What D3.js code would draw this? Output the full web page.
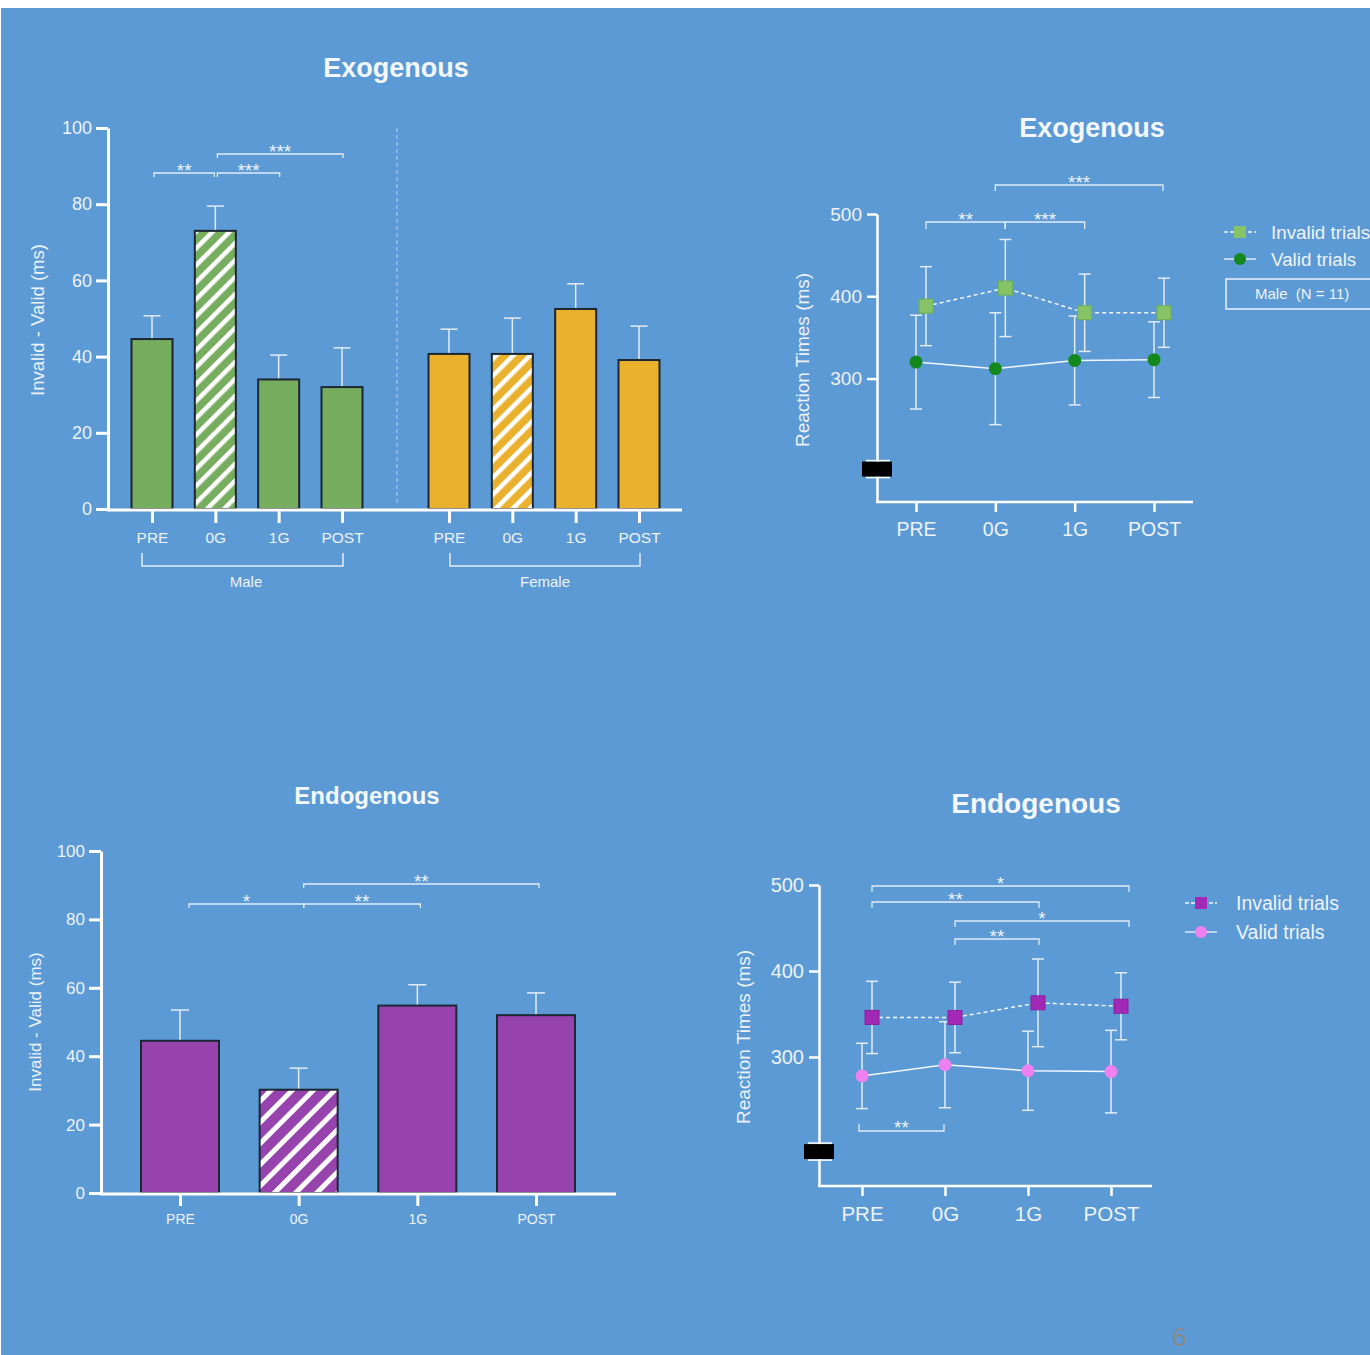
<!DOCTYPE html>
<html><head><meta charset="utf-8">
<script src="https://cdn.jsdelivr.net/npm/d3@7"></script>
<style>
html,body{margin:0;padding:0;background:#fff;}
svg{display:block;font-family:"Liberation Sans",Arial,sans-serif;}
</style></head><body>
<svg id="c" width="1370" height="1355"></svg>
<script>
// ---------------- data ----------------
const conditions = ["PRE", "0G", "1G", "POST"];
const exoMaleMeans = [44.6, 73.0, 34.0, 32.0];
const exoMaleSem = [6.1, 6.5, 6.4, 10.3];
const exoFemaleMeans = [40.7, 40.7, 52.5, 39.1];
const exoFemaleSem = [6.5, 9.4, 6.6, 8.9];
const endoMeans = [44.5, 30.2, 54.8, 52.0];
const endoSem = [9.0, 6.3, 6.1, 6.5];
const exoInvalidRT = [388, 410, 380, 380];
const exoInvalidSD = [48, 59, 47, 42];
const exoValidRT = [320, 312, 322, 323];
const exoValidSD = [57, 68, 54, 46];
const endoInvalidRT = [346, 346, 363, 359];
const endoInvalidSD = [42, 41, 51, 39];
const endoValidRT = [278, 291, 284, 283];
const endoValidSD = [38, 50, 46, 48];
const diffTicks = [0, 20, 40, 60, 80, 100];
const rtTicks = [300, 400, 500];
const hatched = "0G";
const legendLabels = ["Invalid trials", "Valid trials"];
const groupLabels = ["Male", "Female"];
const maleN = "Male  (N = 11)";
// significance: [from, to, label]
const sigExoBars = [["PRE", "0G", "**"], ["0G", "1G", "***"], ["0G", "POST", "***"]];
const sigExoRT = [["PRE", "0G", "**"], ["0G", "1G", "***"], ["0G", "POST", "***"]];
const sigEndoBars = [["PRE", "0G", "*"], ["0G", "1G", "**"], ["0G", "POST", "**"]];
const sigEndoRT = [["PRE", "POST", "*"], ["PRE", "1G", "**"], ["0G", "POST", "*"], ["0G", "1G", "**"]];
const sigEndoRTValid = [["PRE", "0G", "**"]];

// ---------------- setup ----------------
const svg = d3.select("#c");
const TXT = "#eef3fa";
const AX = "#ffffff";
const ERR = "#e4ecf5";
const BLUE = "#5b9ad4";
const GREEN = "#77ad5f", YELLOW = "#e9b12d", PURPLE = "#9743ae";
const EDGE = "#1c2733";
const STAR = 19;

svg.append("rect").attr("x", 0).attr("y", 0).attr("width", 1370).attr("height", 1355).attr("fill", "#ffffff");
svg.append("rect").attr("x", 1).attr("y", 8).attr("width", 1369).attr("height", 1347).attr("fill", BLUE);

const defs = svg.append("defs");
function hatch(id, color, w, s) {
  const p = defs.append("pattern").attr("id", id).attr("patternUnits", "userSpaceOnUse")
    .attr("width", w).attr("height", w).attr("patternTransform", "rotate(45)");
  p.append("rect").attr("width", w).attr("height", w).attr("fill", color);
  p.append("rect").attr("x", 0).attr("width", s).attr("height", w).attr("fill", "#ffffff");
}
hatch("hG", GREEN, 12, 4.5); hatch("hY", YELLOW, 12, 4.5); hatch("hP", PURPLE, 15, 5);

function styleAxis(g, fs) {
  g.attr("font-family", null).attr("font-size", fs);
  g.select(".domain").attr("stroke", AX).attr("stroke-width", 3);
  g.selectAll(".tick line").attr("stroke", AX).attr("stroke-width", 3);
  g.selectAll(".tick text").attr("fill", TXT);
}

function title(x, y, text, fs) {
  svg.append("text").attr("x", x).attr("y", y).attr("text-anchor", "middle")
    .attr("font-weight", "bold").attr("font-size", fs).attr("fill", "#f4f7fb").text(text);
}
function yTitle(x, y, text, fs) {
  svg.append("text").attr("transform", `translate(${x},${y}) rotate(-90)`).attr("text-anchor", "middle")
    .attr("font-size", fs).attr("fill", TXT).text(text);
}
function bracket(x1, x2, y, label, drop, fs) {
  svg.append("path").attr("d", `M${x1},${y + drop}V${y}H${x2}V${y + drop}`)
    .attr("fill", "none").attr("stroke", ERR).attr("stroke-width", 1.3);
  const cy = drop > 0 ? y - 7 : y - 8;
  svg.append("text").attr("x", (x1 + x2) / 2).attr("y", cy + 0.58 * fs).attr("text-anchor", "middle")
    .attr("font-size", fs).attr("fill", TXT).text(label);
}

// ---------------- bar chart helper ----------------
function bars(xs, y, means, sem, color, pat, bw, cap) {
  const g = svg.append("g");
  conditions.forEach((c, i) => {
    const cx = xs(c);
    g.append("line").attr("x1", cx).attr("x2", cx).attr("y1", y(means[i])).attr("y2", y(means[i] + sem[i]))
      .attr("stroke", ERR).attr("stroke-width", 1.5);
    g.append("line").attr("x1", cx - cap / 2).attr("x2", cx + cap / 2).attr("y1", y(means[i] + sem[i])).attr("y2", y(means[i] + sem[i]))
      .attr("stroke", ERR).attr("stroke-width", 1.5);
    g.append("rect").attr("x", cx - bw / 2).attr("y", y(means[i])).attr("width", bw)
      .attr("height", y(0) - y(means[i]))
      .attr("fill", c === hatched ? `url(#${pat})` : color)
      .attr("stroke", EDGE).attr("stroke-width", 2);
  });
}
function xTicks(xs, yBase, len, pad, fs) {
  const g = svg.append("g").attr("transform", `translate(0,${yBase})`)
    .call(d3.axisBottom(xs).tickSize(len).tickSizeOuter(0).tickPadding(pad));
  styleAxis(g, fs);
  g.select(".domain").remove();
}

// ================= Top-left: Exogenous bars =================
{
  const y = d3.scaleLinear().domain([0, 100]).range([509, 128]);
  const xm = d3.scalePoint().domain(conditions).range([152, 342]);
  const xf = d3.scalePoint().domain(conditions).range([449, 639]);
  title(396, 77, "Exogenous", 27);
  yTitle(44, 320, "Invalid - Valid (ms)", 18.5);
  svg.append("line").attr("x1", 397).attr("x2", 397).attr("y1", 128).attr("y2", 506)
    .attr("stroke", "#b9cde3").attr("stroke-width", 1).attr("stroke-dasharray", "4,3");
  bars(xm, y, exoMaleMeans, exoMaleSem, GREEN, "hG", 41, 17);
  bars(xf, y, exoFemaleMeans, exoFemaleSem, YELLOW, "hY", 41, 17);
  const ga = svg.append("g").attr("transform", "translate(108,0)")
    .call(d3.axisLeft(y).tickValues(diffTicks).tickSize(12).tickSizeOuter(0).tickPadding(4));
  styleAxis(ga, 18);
  svg.append("line").attr("x1", 107).attr("x2", 682).attr("y1", 510).attr("y2", 510).attr("stroke", AX).attr("stroke-width", 3);
  xTicks(xm, 511, 12, 9, 15.5);
  xTicks(xf, 511, 12, 9, 15.5);
  [[xm, 142, 343, 246, 0], [xf, 450, 640, 545, 1]].forEach(([xs, a, b, lx, k]) => {
    svg.append("path").attr("d", `M${a},553V566H${b}V553`).attr("fill", "none").attr("stroke", ERR).attr("stroke-width", 1.5);
    svg.append("text").attr("x", lx).attr("y", 587).attr("text-anchor", "middle").attr("font-size", 15)
      .attr("fill", TXT).text(groupLabels[k]);
  });
  const lv = [173, 173, 154];
  sigExoBars.forEach((s, i) => bracket(xm(s[0]) + 2, xm(s[1]) - (i === 0 ? 1 : -1), lv[i], s[2], 4, STAR));
}

// ================= Bottom-left: Endogenous bars =================
{
  const y = d3.scaleLinear().domain([0, 100]).range([1193, 851]);
  const xs = d3.scalePoint().domain(conditions).range([180, 536]);
  title(367, 804, "Endogenous", 24);
  yTitle(41, 1022, "Invalid - Valid (ms)", 17);
  bars(xs, y, endoMeans, endoSem, PURPLE, "hP", 78, 18);
  const ga = svg.append("g").attr("transform", "translate(101,0)")
    .call(d3.axisLeft(y).tickValues(diffTicks).tickSize(12).tickSizeOuter(0).tickPadding(4));
  styleAxis(ga, 17);
  svg.append("line").attr("x1", 100).attr("x2", 616).attr("y1", 1194).attr("y2", 1194).attr("stroke", AX).attr("stroke-width", 3);
  xTicks(xs, 1195, 11, 8, 14);
  const lv = [904, 904, 884];
  sigEndoBars.forEach((s, i) => bracket(xs(s[0]) + (i === 0 ? 9 : 5), xs(s[1]) + (i === 0 ? 5 : 3), lv[i], s[2], 4, STAR));
}

// ---------------- RT line chart helper ----------------
function rtChart(o) {
  const y = d3.scaleLinear().domain([150, 500]).range([o.yBot, o.yTop]);
  const xs = d3.scalePoint().domain(conditions).range(o.xr);
  const off = 10;
  title(o.tx, o.ty, o.title, o.tfs);
  yTitle(o.ytx, o.yty, "Reaction Times (ms)", 19);
  // axes
  const ga = svg.append("g").attr("transform", `translate(${o.x0},0)`)
    .call(d3.axisLeft(y).tickValues(rtTicks).tickSize(10).tickSizeOuter(0).tickPadding(5));
  styleAxis(ga, o.yfs);
  ga.select(".domain").attr("stroke-width", 2.5);
  ga.selectAll(".tick line").attr("stroke-width", 2.5);
  svg.append("line").attr("x1", o.x0 - 1).attr("x2", o.x1).attr("y1", o.yBot).attr("y2", o.yBot).attr("stroke", AX).attr("stroke-width", 2.5);
  const gx = svg.append("g").attr("transform", `translate(0,${o.yBot})`)
    .call(d3.axisBottom(xs).tickSize(10).tickSizeOuter(0).tickPadding(10));
  styleAxis(gx, o.xfs);
  gx.select(".domain").remove();
  gx.selectAll(".tick line").attr("stroke-width", 2.5);
  // break marker
  const by = y(190);
  svg.append("rect").attr("x", o.x0 - 15).attr("y", by - 7.5).attr("width", 30).attr("height", 15).attr("fill", "#000");
  [by - 8.5, by + 8.5].forEach(v => svg.append("line").attr("x1", o.x0 - 11).attr("x2", o.x0 + 13)
    .attr("y1", v).attr("y2", v).attr("stroke", AX).attr("stroke-width", 1.5));
  // error bars
  const series = [
    { m: o.inv, e: o.invE, dx: off },
    { m: o.val, e: o.valE, dx: 0 }
  ];
  series.forEach(s => conditions.forEach((c, i) => {
    const cx = xs(c) + s.dx;
    const t = y(s.m[i] + s.e[i]), b = y(s.m[i] - s.e[i]);
    svg.append("line").attr("x1", cx).attr("x2", cx).attr("y1", t).attr("y2", b).attr("stroke", ERR).attr("stroke-width", 1.5);
    [t, b].forEach(v => svg.append("line").attr("x1", cx - 6).attr("x2", cx + 6).attr("y1", v).attr("y2", v)
      .attr("stroke", ERR).attr("stroke-width", 1.5));
  }));
  // lines
  const line = dx => d3.line().x((d, i) => xs(conditions[i]) + dx).y(d => y(d));
  svg.append("path").attr("d", line(off)(o.inv)).attr("fill", "none").attr("stroke", "#f4f7fb")
    .attr("stroke-width", 1.5).attr("stroke-dasharray", "4,3");
  svg.append("path").attr("d", line(0)(o.val)).attr("fill", "none").attr("stroke", "#f4f7fb").attr("stroke-width", 1.5);
  // markers
  conditions.forEach((c, i) => {
    svg.append("rect").attr("x", xs(c) + off - 7).attr("y", y(o.inv[i]) - 7).attr("width", 14).attr("height", 14)
      .attr("fill", o.invC).attr("stroke", o.invS).attr("stroke-width", 1);
    svg.append("circle").attr("cx", xs(c)).attr("cy", y(o.val[i])).attr("r", 6.5).attr("fill", o.valC);
  });
  // legend
  const L = o.leg;
  [0, 1].forEach(k => {
    const ly = L.y + k * L.dy;
    svg.append("line").attr("x1", L.x).attr("x2", L.x + 32).attr("y1", ly).attr("y2", ly).attr("stroke", "#f4f7fb")
      .attr("stroke-width", 1.3).attr("stroke-dasharray", k === 0 ? "4,2" : null);
    if (k === 0) svg.append("rect").attr("x", L.x + 10).attr("y", ly - 6).attr("width", 12).attr("height", 12).attr("fill", o.invC);
    else svg.append("circle").attr("cx", L.x + 16).attr("cy", ly).attr("r", 6).attr("fill", o.valC);
    svg.append("text").attr("x", L.tx).attr("y", ly + 7).attr("font-size", L.fs).attr("fill", TXT).text(legendLabels[k]);
  });
  return { xs, y, off };
}

// ================= Top-right =================
{
  const r = rtChart({
    yBot: 502, yTop: 214, xr: [916, 1154], x0: 877, x1: 1193,
    title: "Exogenous", tx: 1092, ty: 137, tfs: 27, ytx: 809, yty: 360, yfs: 19, xfs: 19.5,
    inv: exoInvalidRT, invE: exoInvalidSD, val: exoValidRT, valE: exoValidSD,
    invC: "#85c366", invS: "#6fae52", valC: "#12881d",
    leg: { x: 1224, y: 232, dy: 27, tx: 1271, fs: 18.8 }
  });
  const xs = r.xs;
  bracket(xs("PRE") + 10, xs("0G") + 10, 222, "**", 7, STAR);
  bracket(xs("0G") + 10, xs("1G") + 10, 222, "***", 7, STAR);
  svg.append("line").attr("x1", xs("0G") + 10).attr("x2", xs("0G") + 10).attr("y1", 222).attr("y2", 229)
    .attr("stroke", ERR).attr("stroke-width", 1.3);
  bracket(xs("0G"), xs("POST") + 9, 185, "***", 6, STAR);
  svg.append("rect").attr("x", 1226).attr("y", 279).attr("width", 170).attr("height", 30)
    .attr("fill", "none").attr("stroke", "#eef3fa").attr("stroke-width", 1.5);
  svg.append("text").attr("x", 1255).attr("y", 299).attr("font-size", 15).attr("fill", TXT)
    .style("white-space", "pre").text(maleN);
}

// ================= Bottom-right =================
{
  const r = rtChart({
    yBot: 1186, yTop: 885, xr: [862, 1111], x0: 819, x1: 1152,
    title: "Endogenous", tx: 1036, ty: 813, tfs: 28, ytx: 750, yty: 1037, yfs: 20, xfs: 20.5,
    inv: endoInvalidRT, invE: endoInvalidSD, val: endoValidRT, valE: endoValidSD,
    invC: "#a229b6", invS: "#8d1fa0", valC: "#ee80ef",
    leg: { x: 1185, y: 903, dy: 29, tx: 1236, fs: 19.5 }
  });
  const xs = r.xs;
  const lv = [886, 902, 921, 939];
  sigEndoRT.forEach((s, i) => bracket(xs(s[0]) + 10, xs(s[1]) + (s[1] === "POST" ? 18 : 11), lv[i], s[2], 6, STAR));
  sigEndoRTValid.forEach(s => bracket(xs(s[0]) - 3, xs(s[1]) - 1, 1131, s[2], -7, STAR));
}

// page number
svg.append("text").attr("x", 1172).attr("y", 1346).attr("font-size", 26).attr("fill", "#8a8a8a")
  .attr("font-family", "Noto Sans, sans-serif").text("6");
</script>
</body></html>
